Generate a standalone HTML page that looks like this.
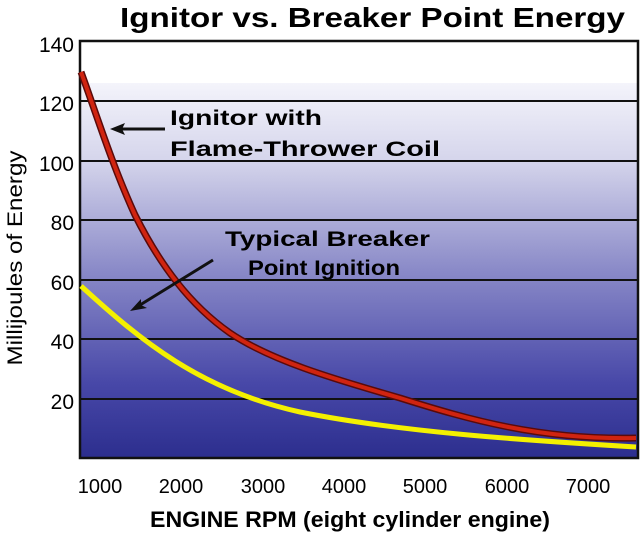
<!DOCTYPE html><html><head><style>body{margin:0;background:#fff}svg{display:block}text{font-family:"Liberation Sans",Arial,sans-serif}</style></head><body>
<svg width="640" height="535" viewBox="0 0 640 535">
<defs><linearGradient id="g" x1="0" y1="0" x2="0" y2="1">
<stop offset="0" stop-color="#f4f4fb"/><stop offset="0.2" stop-color="#d6d6ec"/><stop offset="0.5" stop-color="#8a8ac8"/><stop offset="0.8" stop-color="#4848a8"/><stop offset="1" stop-color="#2c2e8e"/></linearGradient></defs>
<text x="120" y="27" font-size="28" font-weight="bold" textLength="505" lengthAdjust="spacingAndGlyphs">Ignitor vs. Breaker Point Energy</text>
<rect x="80" y="41" width="558" height="42" fill="#fff"/>
<rect x="80" y="83" width="558" height="375" fill="url(#g)"/>
<g stroke="#111" stroke-width="2">
<line x1="80" y1="101" x2="638" y2="101"/><line x1="80" y1="161" x2="638" y2="161"/><line x1="80" y1="220" x2="638" y2="220"/><line x1="80" y1="280" x2="638" y2="280"/><line x1="80" y1="339" x2="638" y2="339"/><line x1="80" y1="399" x2="638" y2="399"/></g>
<rect x="80" y="41" width="558" height="417" fill="none" stroke="#111" stroke-width="2.5"/>
<path id="r" d="M81,72 C95,110 112,165 135,215 C160,265 190,305 230,333 C270,360 330,378 400,398 C470,420 540,440 636,438" fill="none" stroke="#5a0a0a" stroke-width="7"/>
<path d="M81,72 C95,110 112,165 135,215 C160,265 190,305 230,333 C270,360 330,378 400,398 C470,420 540,440 636,438" fill="none" stroke="#d02410" stroke-width="4"/>
<path d="M81,286 C140,340 200,390 300,412 C400,432 520,440 636,447" fill="none" stroke="#f4f000" stroke-width="5"/>
<g font-size="21" font-weight="bold">
<text x="170" y="125" textLength="152" lengthAdjust="spacingAndGlyphs">Ignitor with</text><text x="170" y="156" textLength="270" lengthAdjust="spacingAndGlyphs">Flame-Thrower Coil</text>
<text x="225" y="246" textLength="205" lengthAdjust="spacingAndGlyphs">Typical Breaker</text><text x="248" y="275" textLength="152" lengthAdjust="spacingAndGlyphs">Point Ignition</text></g>
<line x1="165" y1="129" x2="118" y2="129" stroke="#111" stroke-width="3"/><path d="M110,129 L125,123 L122,129 L125,135Z" fill="#111"/>
<line x1="213" y1="260" x2="140" y2="305" stroke="#111" stroke-width="3"/><path d="M130,311 L141,299 L141,305 L147,308Z" fill="#111"/>
<g font-size="21" text-anchor="end"><text x="74" y="52">140</text><text x="74" y="111">120</text><text x="74" y="171">100</text><text x="74" y="230">80</text><text x="74" y="290">60</text><text x="74" y="349">40</text><text x="74" y="409">20</text></g>
<g font-size="20" text-anchor="middle"><text x="100" y="493">1000</text><text x="181" y="493">2000</text><text x="263" y="493">3000</text><text x="344" y="493">4000</text><text x="425" y="493">5000</text><text x="507" y="493">6000</text><text x="588" y="493">7000</text></g>
<text x="150" y="527" font-size="22" font-weight="bold" textLength="400" lengthAdjust="spacingAndGlyphs">ENGINE RPM (eight cylinder engine)</text>
<text transform="translate(22,258) rotate(-90)" font-size="21" text-anchor="middle" textLength="215" lengthAdjust="spacingAndGlyphs">Millijoules of Energy</text>
</svg></body></html>
